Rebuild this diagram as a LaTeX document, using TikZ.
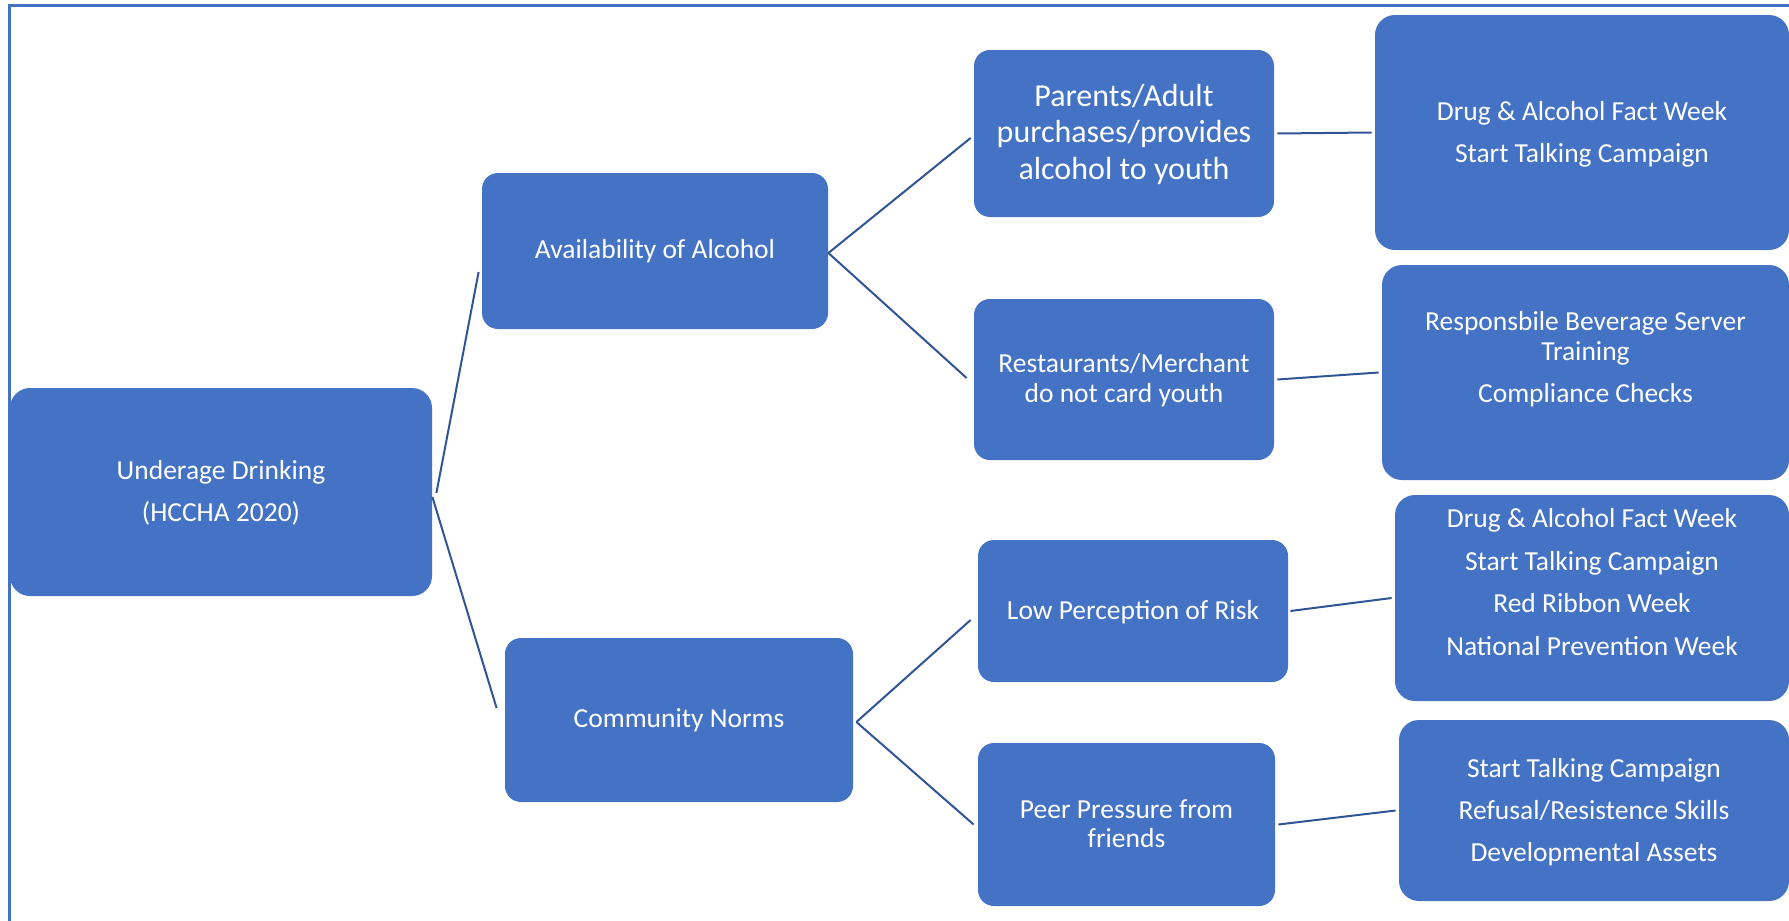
\documentclass[tikz,border=0pt]{standalone}
\usepackage{fontspec}
\setmainfont{Carlito}
\definecolor{boxblue}{HTML}{4472C4}
\definecolor{linkblue}{HTML}{2F5597}
\newcommand{\bt}[2]{\raisebox{#1}[0pt][0pt]{\begin{tabular}{@{}c@{}}#2\end{tabular}}}
\tikzset{
  box/.style={fill=boxblue, draw=none, rounded corners=8pt, text=white, inner sep=0pt,
    font=\fontsize{13.75}{15.5}\selectfont},
  bigbox/.style={box, rounded corners=10pt},
  link/.style={draw=linkblue, line width=1pt},
  frameline/.style={draw=boxblue, line width=1.5pt}
}
\begin{document}
\begin{tikzpicture}[x=0.5pt,y=-0.5pt]
\useasboundingbox (0,0) rectangle (1789,921);
\coordinate (fbl) at (9,921);
\coordinate (ftl) at (9,5);
\coordinate (ftr) at (1789,5);
\draw[frameline] (fbl) -- (ftl) -- (ftr);

% level 0
\node[bigbox, minimum width=211pt, minimum height=104pt] (und) at (221,492)
  {\bt{-4.5pt}{Underage Drinking\\[5.5pt](HCCHA 2020)}};
% level 1
\node[box, minimum width=173pt, minimum height=78pt] (avail) at (655,251)
  {\bt{-4pt}{Availability of Alcohol}};
\node[box, minimum width=174pt, minimum height=82pt] (comm) at (679,720)
  {\bt{-4.3pt}{Community Norms}};
% level 2
\node[box, minimum width=150pt, minimum height=83.5pt, font=\fontsize{16}{18.35}\selectfont] (par) at (1124,133.5)
  {\bt{-5.4pt}{Parents/Adult\\purchases/provides\\alcohol to youth}};
\node[box, minimum width=150pt, minimum height=80.5pt, font=\fontsize{13.75}{15}\selectfont] (rest) at (1124,379.5)
  {\bt{-4.7pt}{Restaurants/Merchant\\do not card youth}};
\node[box, minimum width=155pt, minimum height=71pt] (low) at (1133,611)
  {\bt{-4.6pt}{Low Perception of Risk}};
\node[box, minimum width=148.5pt, minimum height=81.5pt, font=\fontsize{13.75}{14.7}\selectfont] (peer) at (1126.5,824.5)
  {\bt{-5pt}{Peer Pressure from\\friends}};
% level 3
\node[bigbox, minimum width=207pt, minimum height=117.5pt] (drugA) at (1582,132.5)
  {\bt{-5pt}{Drug \& Alcohol Fact Week\\[5.7pt]Start Talking Campaign}};
\node[bigbox, minimum width=203.5pt, minimum height=107.5pt, font=\fontsize{13.75}{15}\selectfont] (resp) at (1585.5,372.5)
  {\bt{2.3pt}{Responsbile Beverage Server\\Training\\[6pt]Compliance Checks}};
\node[bigbox, minimum width=197pt, minimum height=103pt] (drugB) at (1592,598)
  {\bt{2.8pt}{Drug \& Alcohol Fact Week\\[5.7pt]Start Talking Campaign\\[5.7pt]Red Ribbon Week\\[5.7pt]National Prevention Week}};
\node[bigbox, minimum width=195pt, minimum height=90.5pt] (start) at (1594,810.5)
  {\bt{-5pt}{Start Talking Campaign\\[5.7pt]Refusal/Resistence Skills\\[5.7pt]Developmental Assets}};

% connectors
\draw[link] ([xshift=2pt,yshift=-0.5pt]und.east) -- ([xshift=-1.5pt,yshift=-10.5pt]avail.west);
\draw[link] ([yshift=-2.5pt]und.east) -- ([xshift=-4pt,yshift=6pt]comm.west);
\draw[link] ([yshift=-1pt]avail.east) -- ([xshift=-1.5pt,yshift=-2.25pt]par.west);
\draw[link] ([yshift=-1pt]avail.east) -- ([xshift=-3.5pt,yshift=0.75pt]rest.west);
\draw[link] ([xshift=1.5pt]par.east) -- ([xshift=-1.5pt]drugA.west);
\draw[link] ([xshift=1.5pt]rest.east) -- ([xshift=-1.5pt]resp.west);
\draw[link] ([xshift=1.5pt,yshift=-1pt]comm.east) -- ([xshift=-3.5pt,yshift=-4.5pt]low.west);
\draw[link] ([xshift=1.5pt,yshift=-1pt]comm.east) -- ([xshift=-2pt]peer.west);
\draw[link] ([xshift=1pt]low.east) -- ([xshift=-1.5pt]drugB.west);
\draw[link] ([xshift=1.5pt]peer.east) -- ([xshift=-1.5pt]start.west);
\end{tikzpicture}
\end{document}
